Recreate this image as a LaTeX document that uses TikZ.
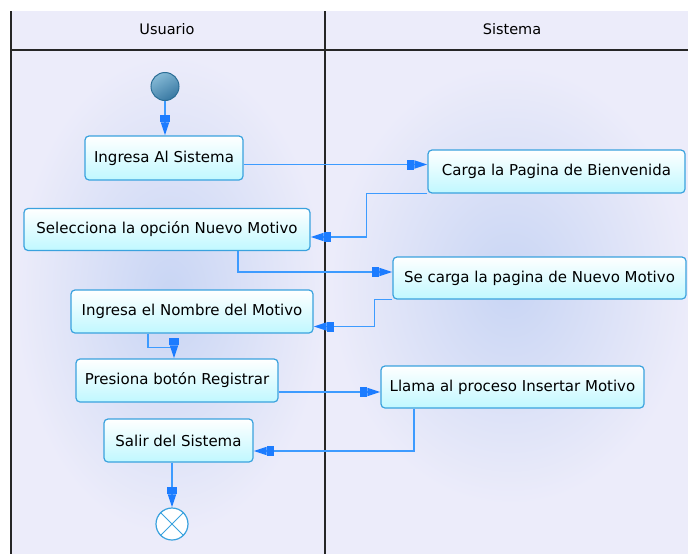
\documentclass[tikz,border=0pt]{standalone}
\usepackage{fontspec}
\setmainfont{DejaVu Sans}
\usepackage{xcolor}
\usepackage{tikz}
\usetikzlibrary{arrows.meta,calc,positioning,shapes.geometric}
\definecolor{lane}{HTML}{ECECFA}
\definecolor{blob}{HTML}{C8D5F4}
\definecolor{boxline}{HTML}{3AA2DE}
\definecolor{boxfill}{HTML}{C0F8FF}
\definecolor{flowline}{HTML}{3D9BFF}
\definecolor{flowhead}{HTML}{1C7CFF}
\definecolor{startlight}{HTML}{86BAD6}
\definecolor{startdark}{HTML}{3878A2}
\definecolor{startline}{HTML}{2C6E96}

\begin{document}
\begin{tikzpicture}[x=1pt,y=-1pt,
  accion/.style={draw=boxline,line width=1.2pt,rounded corners=4pt,top color=white,bottom color=boxfill,font=\fontsize{15}{18}\selectfont,inner sep=0pt},
  flujo/.style={draw=flowline,line width=1.7pt,-{Rectangle[length=7pt,width=10pt,color=flowhead]Triangle[length=13pt,width=8pt,color=flowhead]}}]
\useasboundingbox (0,0) rectangle (688,554);
\fill[lane] (10,11) rectangle (688,554);
\shade[inner color=blob,outer color=lane] (170,295) ellipse [x radius=155pt,y radius=240pt];
\shade[inner color=blob,outer color=lane] (510,285) ellipse [x radius=180pt,y radius=220pt];
\fill[lane] (10,11) rectangle (688,50);
\draw[line width=1.5pt,black!85] (11,11) -- (11,554);
\draw[line width=1.5pt,black!85] (10,50) -- (688,50);
\draw[line width=1.5pt,black!85] (325,11) -- (325,554);
\node[font=\fontsize{14.5}{17}\selectfont] (usuario) at (167,29) {Usuario};
\node[font=\fontsize{14.5}{17}\selectfont] (sistema) at (512,29) {Sistema};

\node[circle,minimum size=28pt,inner sep=0pt,draw=startline,line width=1pt,top color=startlight,bottom color=startdark,shading angle=30] (inicio) at (165,86.5) {};
\node[accion,minimum width=158pt,minimum height=44pt] (ingreso) at (164,158) {Ingresa Al Sistema};
\node[accion,minimum width=257pt,minimum height=43pt] (carga) at (556.5,171.5) {Carga la Pagina de Bienvenida};
\node[accion,minimum width=286pt,minimum height=42pt] (selecciona) at (167,229.5) {Selecciona la opción Nuevo Motivo};
\node[accion,minimum width=293pt,minimum height=42pt] (secarga) at (539.5,278) {Se carga la pagina de Nuevo Motivo};
\node[accion,minimum width=242pt,minimum height=43pt] (nombre) at (192,311.5) {Ingresa el Nombre del Motivo};
\node[accion,minimum width=202pt,minimum height=43pt] (presiona) at (177,380.5) {Presiona botón Registrar};
\node[accion,minimum width=263pt,minimum height=42pt] (llama) at (512.5,387) {Llama al proceso Insertar Motivo};
\node[accion,minimum width=149pt,minimum height=43pt] (salir) at (178.5,440.5) {Salir del Sistema};
\node[circle,draw=boxline,line width=1.2pt,fill=white,minimum size=32pt,inner sep=0pt] (fin) at (172,524) {};
\draw[boxline,line width=1pt] (fin.45) -- (fin.225) (fin.135) -- (fin.315);

\draw[flujo] (inicio.south) -- (inicio.south |- ingreso.north);
\draw[flujo] ([yshift=-6.5pt]ingreso.east) -- ([yshift=-6.5pt]ingreso.east -| carga.west);
\draw[flujo] (carga.south west) -- ++(-61,0) |- ([yshift=-7.5pt]selecciona.east);
\draw[flujo] ([xshift=71pt]selecciona.south) |- ([yshift=6pt]secarga.west);
\draw[flujo] (secarga.south west) -- ++(-18,0) |- ([yshift=-15pt]nombre.east);
\draw[flujo] ([xshift=-44pt]nombre.south) -- ++(0,14) -| ([xshift=-3pt]presiona.north);
\draw[flujo] ([yshift=-11.5pt]presiona.east) -- ([yshift=-11.5pt]presiona.east -| llama.west);
\draw[flujo] ([xshift=-98.5pt]llama.south) |- ([yshift=-10.5pt]salir.east);
\draw[flujo] (salir.south -| fin.north) -- (fin.north);
\end{tikzpicture}
\end{document}
